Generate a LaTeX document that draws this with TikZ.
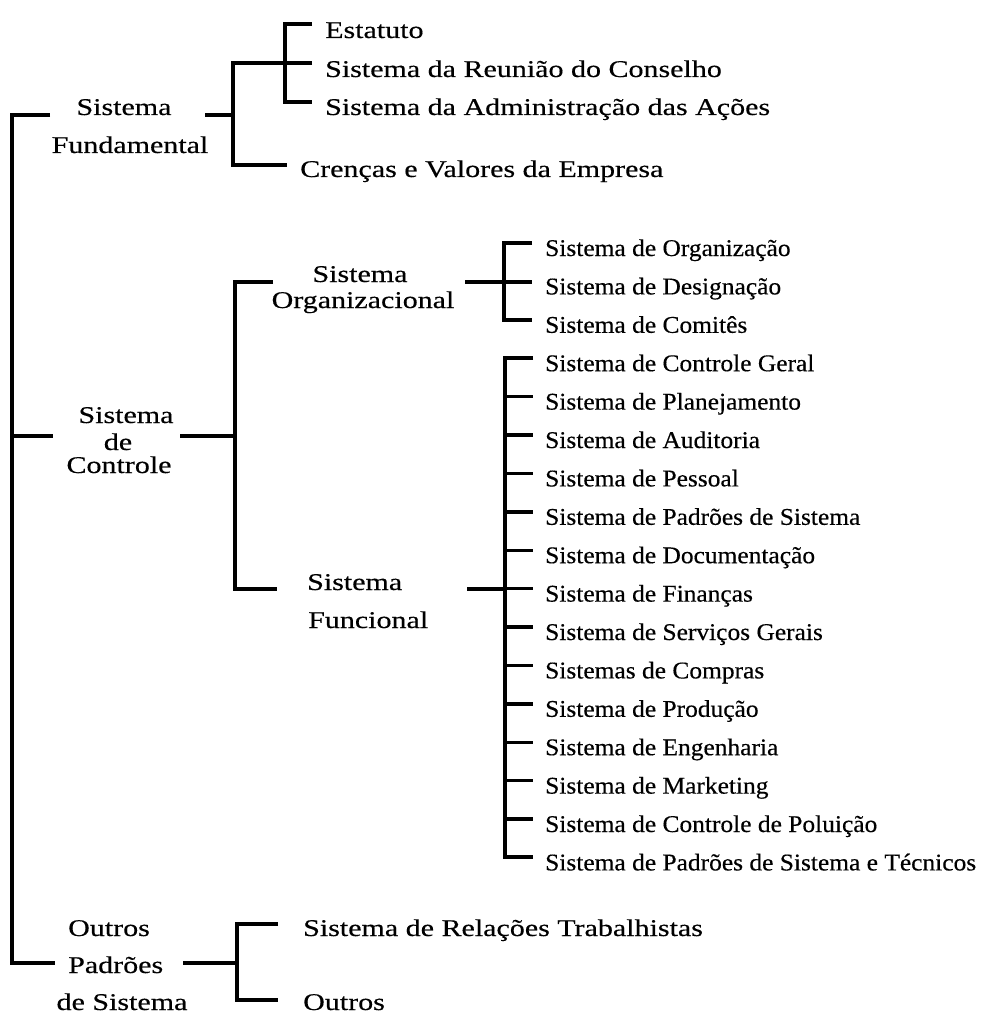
\documentclass[tikz,border=0pt]{standalone}
\usepackage{fontspec}
\setmainfont{Liberation Serif}
\newfontfamily\bigserif[FakeStretch=1.25,FakeBold=0.4]{Liberation Serif}
\newfontfamily\smallserif[FakeStretch=1.06,FakeBold=0.4]{Liberation Serif}
\begin{document}
\begin{tikzpicture}[x=1pt,y=-1pt,
  bar/.style={line width=3.4pt, line join=miter},
  big/.style={inner sep=0pt, anchor=base, font=\bigserif\fontsize{24}{28}\selectfont},
  bigleft/.style={big, anchor=base west},
  leaf/.style={inner sep=0pt, anchor=base west, font=\smallserif\fontsize{24}{28}\selectfont},
]
\useasboundingbox (0,0) rectangle (981,1016);

% ---------- labels of the main branches ----------
\node[big] (fundA) at (124,115) {Sistema};
\node[big] (fundB) at (130,153) {Fundamental};
\node[big] (ctrlA) at (126,423) {Sistema};
\node[big] (ctrlB) at (118,450) {de};
\node[big] (ctrlC) at (119,473) {Controle};
\node[bigleft] (outA) at (68,936) {Outros};
\node[bigleft] (outB) at (68,973) {Padrões};
\node[big] (outC) at (122,1010) {de Sistema};

% ---------- second level ----------
\node[big] (orgA) at (360,282) {Sistema};
\node[big] (orgB) at (363,308) {Organizacional};
\node[bigleft] (funA) at (307,590) {Sistema};
\node[bigleft] (funB) at (308,628) {Funcional};

\node[bigleft] (est) at (325,38) {Estatuto};
\node[bigleft] (reu) at (325,77) {Sistema da Reunião do Conselho};
\node[bigleft] (acs) at (325,115) {Sistema da Administração das Ações};
\node[bigleft] (cren) at (300,177) {Crenças e Valores da Empresa};
\node[bigleft] (rel) at (303,936) {Sistema de Relações Trabalhistas};
\node[bigleft] (outr) at (303,1010) {Outros};

% ---------- leaves of the organizational system ----------
\foreach \t [count=\i from 0] in {Sistema de Organização, Sistema de Designação, Sistema de Comitês}
  \node[leaf] (org\i) at (545,{256+38.4*\i}) {\t};

% ---------- leaves of the functional system ----------
\foreach \t [count=\i from 3] in {Sistema de Controle Geral, Sistema de Planejamento,
    Sistema de Auditoria, Sistema de Pessoal, Sistema de Padrões de Sistema,
    Sistema de Documentação, Sistema de Finanças, Sistema de Serviços Gerais,
    Sistemas de Compras, Sistema de Produção, Sistema de Engenharia,
    Sistema de Marketing, Sistema de Controle de Poluição,
    Sistema de Padrões de Sistema e Técnicos}
  \node[leaf] (fun\i) at (545,{256+38.4*\i}) {\t};

% ---------- junction points ----------
\coordinate (rootTop) at (12,115);
\coordinate (rootMid) at (12,436);
\coordinate (rootBot) at (12,963);
\coordinate (fundJ) at (233,115);
\coordinate (fundTop) at (233,63);
\coordinate (fundBot) at (233,165);
\coordinate (docJ) at (285,63);
\coordinate (docTop) at (285,24);
\coordinate (docBot) at (285,102);
\coordinate (ctrlJ) at (235,436);
\coordinate (ctrlTop) at (235,282);
\coordinate (ctrlBot) at (235,589);
\coordinate (orgJ) at (504,282);
\coordinate (orgTop) at (504,243);
\coordinate (orgBot) at (504,320);
\coordinate (funJ) at (505,589);
\coordinate (funTop) at (505,358);
\coordinate (funBot) at (505,857);
\coordinate (outJ) at (237,963);
\coordinate (outTop) at (237,924);
\coordinate (outBot) at (237,1000);

% ---------- root spine ----------
\draw[bar] (50,115) -- (rootTop) -- (rootBot) -- (55,963);
\draw[bar] (rootMid) -- (53,436);

% ---------- fundamental system ----------
\draw[bar] (205,115) -- (fundJ);
\draw[bar] (312,63) -- (fundTop) -- (fundBot) -- (287,165);
\draw[bar] (312,24) -- (docTop) -- (docBot) -- (312,102);

% ---------- control system ----------
\draw[bar] (180,436) -- (ctrlJ);
\draw[bar] (273,282) -- (ctrlTop) -- (ctrlBot) -- (277,589);

\draw[bar] (465,282) -- (532,282);
\draw[bar] (532,243) -- (orgTop) -- (orgBot) -- (532,320);

\draw[bar] (467,589) -- (funJ);
\draw[bar] (533,358) -- (funTop) -- (funBot) -- (533,857);
\foreach \i in {4,...,15}
  \draw[bar] (505,{256+38.4*\i-13}) -- (533,{256+38.4*\i-13});

% ---------- other standards ----------
\draw[bar] (183,963) -- (outJ);
\draw[bar] (278,924) -- (outTop) -- (outBot) -- (278,1000);
\end{tikzpicture}
\end{document}
